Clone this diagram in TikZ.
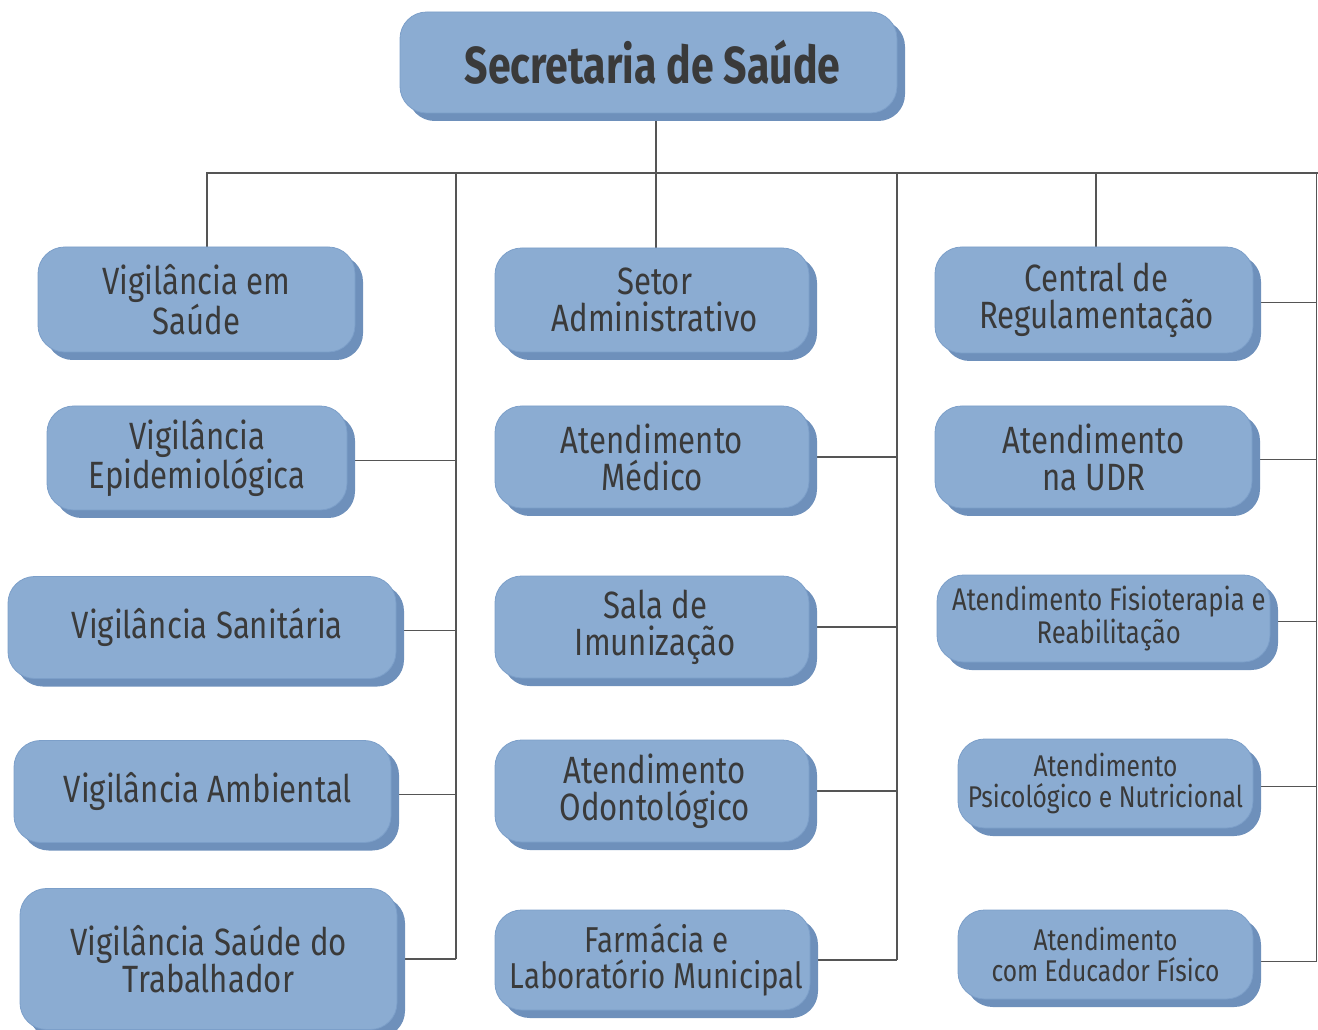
\documentclass[tikz,border=0pt]{standalone}
\usepackage{fontspec}
\setmainfont{Fira Sans}[FakeStretch=0.82, BoldFeatures={FakeStretch=0.79}]
\usetikzlibrary{shadows,backgrounds}
\definecolor{boxfill}{HTML}{8BACD2}
\definecolor{boxshadow}{HTML}{6E90BB}
\definecolor{boxline}{HTML}{7C9FC9}
\definecolor{txt}{HTML}{3A3A3A}
\definecolor{linkcol}{HTML}{555555}
\newcommand\padL[1]{\hspace*{#1}}
\begin{document}
\begin{tikzpicture}[x=0.75pt,y=-0.75pt,
  orgbox/.style={rectangle, rounded corners=20pt, fill=boxfill, draw=boxline, line width=0.6pt,
    general shadow={fill=boxshadow, shadow xshift=6pt, shadow yshift=-6pt},
    text=txt, align=center, inner sep=0pt},
  sz/.style 2 args={minimum width=#1*0.75pt, minimum height=#2*0.75pt},
  ftitle/.style={font=\fontsize{39}{40}\bfseries\selectfont},
  fbig/.style={font=\fontsize{28.5}{27.75}\selectfont},
  fmid/.style={font=\fontsize{27}{27}\selectfont},
  fsmall/.style={font=\fontsize{23.5}{23}\selectfont},
  fxs/.style={font=\fontsize{22.5}{23.5}\selectfont},
  link/.style={draw=linkcol, line width=1pt}]
\useasboundingbox (0,0) rectangle (1318,1030);

% top
\node[orgbox, sz={497}{101}, ftitle] (top) at (648.5,62.5) {\padL{6pt}Secretaria de Saúde};
% left column
\node[orgbox, sz={317}{105}, fbig] (vs) at (196.5,299.5) {Vigilância em\\Saúde};
\node[orgbox, sz={300}{104}, fbig] (ve) at (197,458) {Vigilância\\Epidemiológica};
\node[orgbox, sz={388}{102}, fbig] (vsan) at (202,627.5) {\padL{8pt}Vigilância Sanitária};
\node[orgbox, sz={377}{102}, fbig] (vamb) at (202.5,791.5) {\padL{8pt}Vigilância Ambiental};
\node[orgbox, sz={377}{141}, fbig] (vtrab) at (208.5,959) {Vigilância Saúde do\\Trabalhador};
% middle column
\node[orgbox, sz={314}{104}, fbig] (setor) at (652,300) {\padL{4pt}Setor\\\padL{4pt}Administrativo};
\node[orgbox, sz={314}{102}, fbig] (med) at (652,457) {Atendimento\\Médico};
\node[orgbox, sz={314}{102}, fbig] (sala) at (652,627) {\padL{5pt}Sala de\\\padL{5pt}Imunização};
\node[orgbox, sz={314}{102}, fbig] (odo) at (652,791) {\padL{4pt}Atendimento\\\padL{4pt}Odontológico};
\node[orgbox, sz={315}{100}, fmid] (farm) at (652.5,960) {\padL{6pt}Farmácia e\\\padL{6pt}Laboratório Municipal};
% right column
\node[orgbox, sz={318}{106}, fbig] (cent) at (1094,300) {\padL{4pt}Central de\\\padL{4pt}Regulamentação};
\node[orgbox, sz={317}{102}, fbig] (udr) at (1093.5,457) {Atendimento\\na UDR};
\node[orgbox, sz={333}{87}, fsmall] (fis) at (1103.5,618.5) {\padL{8pt}Atendimento Fisioterapia e\\\padL{8pt}Reabilitação};
\node[orgbox, sz={295}{89}, fxs] (psi) at (1105.5,783.5) {Atendimento\\Psicológico e Nutricional};
\node[orgbox, sz={295}{89}, fxs] (edu) at (1105.5,954.5) {Atendimento\\com Educador Físico};

\coordinate (hbL) at (207,173);
\coordinate (hbC) at (656,173);
\coordinate (vbL) at (456,173);
\coordinate (vbM) at (897,173);
\coordinate (hbRC) at (1096,173);
\coordinate (hbR) at (1316.5,173);
\coordinate (hbEnd) at (1318,173);
\coordinate (eduLink) at ([yshift=-5pt]edu.east);

\begin{pgfonlayer}{background}
\draw[link] (hbC |- top.south) -- (hbC) -- (hbC |- setor.north);
\draw[link] (hbL |- vs.north) -- (hbL) -- (hbEnd);
\draw[link] (hbR) -- (hbR |- eduLink);
\draw[link] (hbRC) -- (hbRC |- cent.north);
\draw[link] (vbL) -- (vbL |- vtrab.east);
\draw[link] (vbM) -- (vbM |- farm.east);
\foreach \n in {ve,vsan,vamb}{
  \draw[link] ([yshift=-2pt]\n.east) -- ([yshift=-2pt]\n.east -| vbL);
}
\draw[link] (vtrab.east) -- (vtrab.east -| vbL);
\foreach \n in {med,sala,odo}{
  \draw[link] (\n.east) -- (\n.east -| vbM);
}
\draw[link] (farm.east) -- (farm.east -| vbM);
\foreach \n in {cent,udr,fis,psi}{
  \draw[link] ([yshift=-2pt]\n.east) -- ([yshift=-2pt]\n.east -| hbR);
}
\draw[link] (eduLink) -- (eduLink -| hbR);
\end{pgfonlayer}
\end{tikzpicture}
\end{document}
